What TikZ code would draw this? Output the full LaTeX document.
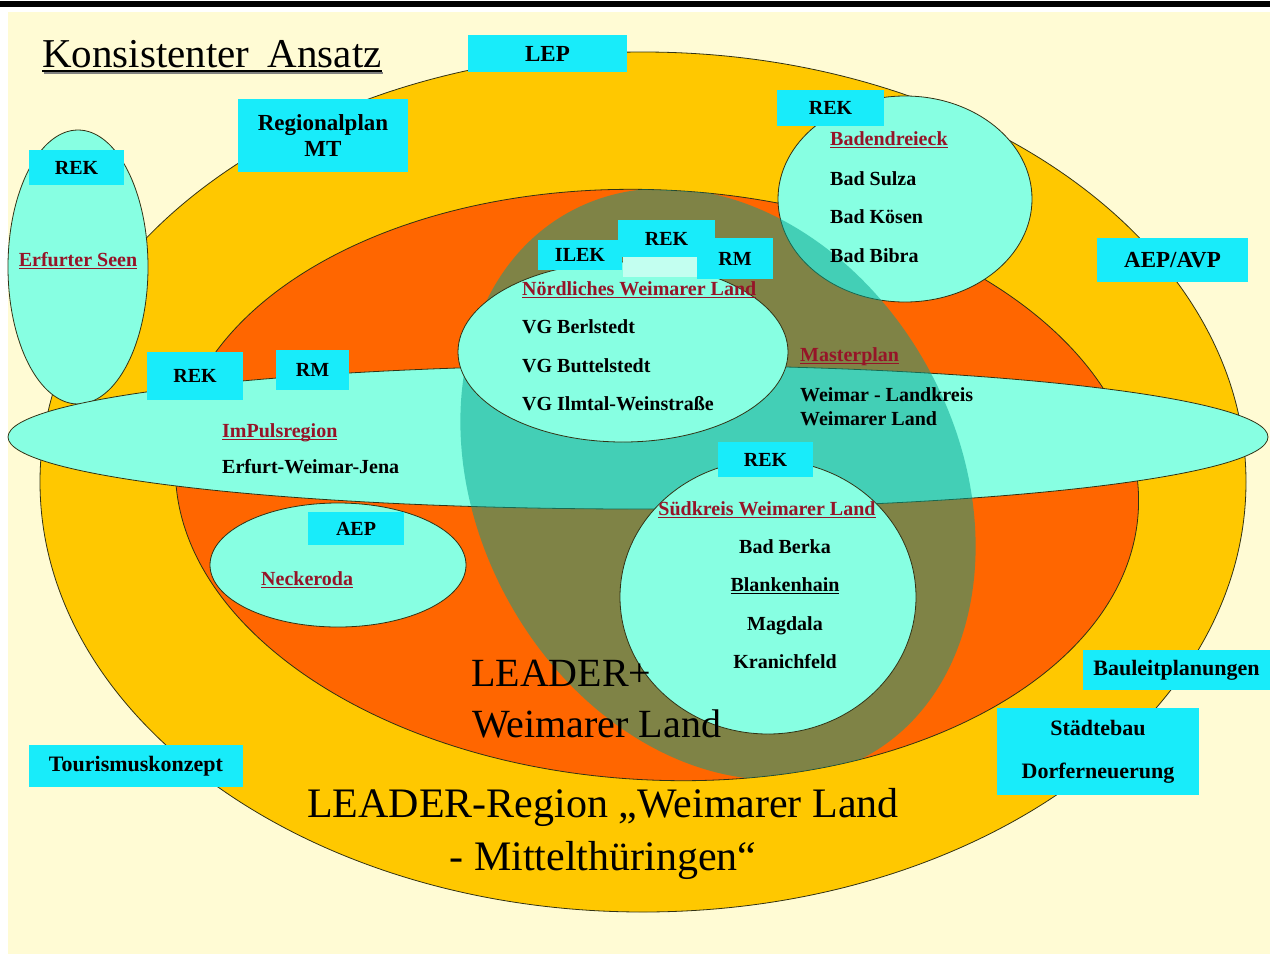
\documentclass[tikz,border=0pt]{standalone}
\usepackage{fontspec}
\setmainfont{Liberation Serif}
\definecolor{cream}{RGB}{255,251,212}
\definecolor{gold}{RGB}{255,200,0}
\definecolor{orng}{RGB}{255,102,0}
\definecolor{aqua}{RGB}{135,255,226}
\definecolor{boxcyan}{RGB}{24,236,250}
\definecolor{olivet}{RGB}{0,160,140}
\definecolor{darkred}{RGB}{150,20,40}
\definecolor{edge}{RGB}{50,50,20}
\newcommand{\ulr}[1]{\setbox0\hbox{#1}\rlap{\rule[-3pt]{\wd0}{1.4pt}}\box0}
\newcommand{\ulk}[1]{\setbox0\hbox{#1}\rlap{\textcolor{gray}{\kern1.5pt\rule[-6.5pt]{\wd0}{2pt}}}\rlap{\rule[-4.5pt]{\wd0}{2pt}}\box0}
\begin{document}
\begin{tikzpicture}[x=1pt,y=-1pt,
  region/.style={draw=edge, line width=0.8pt},
  box/.style={fill=boxcyan, inner sep=0pt, font=\fontsize{20}{22}\selectfont\bfseries, align=center},
  boxl/.style={box, font=\fontsize{23}{26}\selectfont\bfseries},
  boxm/.style={box, font=\fontsize{22}{24}\selectfont\bfseries},
  lbl/.style={inner sep=0pt, font=\fontsize{20}{22}\selectfont\bfseries},
  head/.style={lbl, text=darkred},
  big/.style={inner sep=0pt, font=\fontsize{41}{44}\selectfont}]
\useasboundingbox (0,0) rectangle (1270,954);
% background
\fill[white] (0,0) rectangle (1270,954);
\fill[black] (0,1) rectangle (1270,7);
\fill[cream] (8,12) rectangle (1270,954);
% regions
\fill[gold, region] (643,482) ellipse [x radius=603pt, y radius=430pt];
\fill[orng, region, shift={(657,485)}, rotate=-3] (0,0) ellipse [x radius=482pt, y radius=295pt];
\fill[aqua, region] (78,267) ellipse [x radius=70pt, y radius=137pt];
\fill[aqua, region] (638,437) ellipse [x radius=630pt, y radius=72pt];
\fill[aqua, region] (905,199) ellipse [x radius=127pt, y radius=103pt];
\begin{scope}
  \clip[shift={(657,485)}, rotate=-3] (0,0) ellipse [x radius=482pt, y radius=295pt];
  \fill[olivet, fill opacity=0.5, shift={(718,484)}, rotate=28.5] (0,0) ellipse [x radius=240pt, y radius=310pt];
\end{scope}
\fill[aqua, region] (623,352) ellipse [x radius=165pt, y radius=90pt];
\fill[aqua, region] (768,597) ellipse [x radius=148pt, y radius=137pt];
\fill[aqua, region] (338,565) ellipse [x radius=128pt, y radius=62pt];
% title
\node[big, anchor=base west] (title) at (42,67) {\ulk{Konsistenter\hspace{0.45em}Ansatz}};
% boxes
\node[boxl, minimum width=159pt, minimum height=37pt] (lep) at (547.5,53.5) {LEP};
\node[boxl, minimum width=170pt, minimum height=73pt] (regplan) at (323,135.5) {Regionalplan\\MT};
\node[box, minimum width=95pt, minimum height=35pt] (rekerf) at (76.5,167.5) {REK};
\node[box, minimum width=107pt, minimum height=36pt] (rekbad) at (830.5,108) {REK};
\node[boxl, minimum width=151pt, minimum height=44pt] (aepavp) at (1172.5,260) {AEP/AVP};
\node[box, minimum width=97pt, minimum height=37pt] (reknord) at (666.5,238.5) {REK};
\node[box, minimum width=84pt, minimum height=30pt] (ilek) at (580,255) {ILEK};
\node[box, minimum width=76pt, minimum height=41pt] (rmnord) at (735,258.5) {RM};
\fill[aqua!50!white] (623,257) rectangle (697,277);
\node[box, minimum width=96pt, minimum height=48pt] (rekimp) at (195,376) {REK};
\node[box, minimum width=73pt, minimum height=40pt] (rmimp) at (312.5,370) {RM};
\node[box, minimum width=95pt, minimum height=35pt] (reksued) at (765.5,459.5) {REK};
\node[box, minimum width=96pt, minimum height=33pt] (aep) at (356,528.5) {AEP};
\node[boxm, minimum width=214pt, minimum height=42pt] (tour) at (136,766) {Tourismuskonzept};
\node[boxm, minimum width=187pt, minimum height=40pt] (bauleit) at (1176.5,670) {Bauleitplanungen};
\node[boxm, minimum width=202pt, minimum height=87pt] (staedte) at (1098,751.5) {Städtebau\\[19pt]Dorferneuerung};
% Erfurter Seen
\node[head, anchor=base] (erf) at (78,266) {\ulr{Erfurter Seen}};
% Badendreieck
\node[head, anchor=base west] (baden) at (830,145) {\ulr{Badendreieck}};
\node[lbl, anchor=base west] (sulza) at (830,185) {Bad Sulza};
\node[lbl, anchor=base west] (koesen) at (830,223) {Bad Kösen};
\node[lbl, anchor=base west] (bibra) at (830,262) {Bad Bibra};
% Noerdliches
\node[head, anchor=base west] (nord) at (522,295) {\ulr{Nördliches Weimarer Land}};
\node[lbl, anchor=base west] (berl) at (522,333) {VG Berlstedt};
\node[lbl, anchor=base west] (butt) at (522,372) {VG Buttelstedt};
\node[lbl, anchor=base west] (ilm) at (522,410) {VG Ilmtal-Weinstraße};
% Masterplan
\node[head, anchor=base west] (master) at (800,361) {\ulr{Masterplan}};
\node[lbl, anchor=base west] (wl1) at (800,401) {Weimar - Landkreis};
\node[lbl, anchor=base west] (wl2) at (800,425) {Weimarer Land};
% ImPuls
\node[head, anchor=base west] (impuls) at (222,437) {\ulr{ImPulsregion}};
\node[lbl, anchor=base west] (ewj) at (222,473) {Erfurt-Weimar-Jena};
% Suedkreis
\node[head, anchor=base] (sued) at (767,515) {\ulr{Südkreis Weimarer Land}};
\node[lbl, anchor=base] (berka) at (785,553) {Bad Berka};
\node[lbl, anchor=base] (blank) at (785,591) {\ulr{Blankenhain}};
\node[lbl, anchor=base] (magd) at (785,630) {Magdala};
\node[lbl, anchor=base] (kran) at (785,668) {Kranichfeld};
% Neckeroda
\node[head, anchor=base west] (neck) at (261,585) {\ulr{Neckeroda}};
% big labels
\node[big, font=\fontsize{40}{44}\selectfont, anchor=base west] (lp1) at (471,686) {LEADER+};
\node[big, font=\fontsize{40}{44}\selectfont, anchor=base west] (lp2) at (472,737) {Weimarer Land};
\node[big, font=\fontsize{42}{44}\selectfont, anchor=base] (lr1) at (603,817) {LEADER-Region „Weimarer Land};
\node[big, font=\fontsize{42}{44}\selectfont, anchor=base] (lr2) at (603,870) {- Mittelthüringen“};
\end{tikzpicture}
\end{document}
